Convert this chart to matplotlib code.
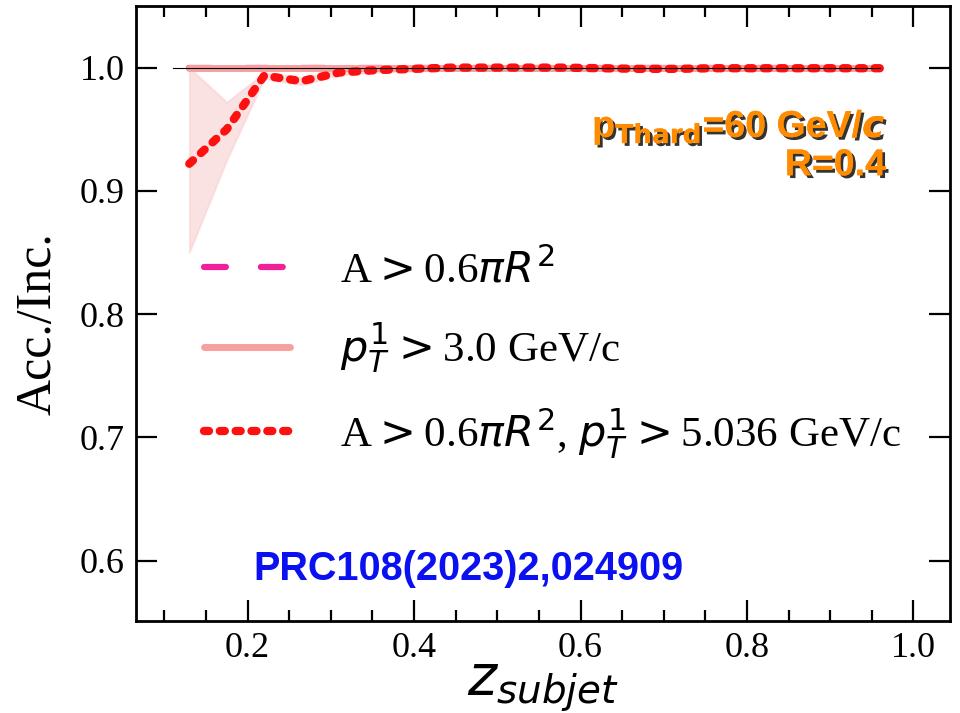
import matplotlib
matplotlib.use("Agg")
import matplotlib.pyplot as plt
import matplotlib.patheffects as pe
from matplotlib.ticker import MultipleLocator

plt.rcParams['font.family'] = ['Liberation Serif', 'DejaVu Serif']
plt.rcParams['mathtext.fontset'] = 'dejavusans'

# data
z = [0.13, 0.175, 0.22, 0.265, 0.31, 0.355, 0.40, 0.445, 0.49, 0.535,
     0.58, 0.625, 0.67, 0.715, 0.76, 0.805, 0.85, 0.895, 0.96]
acc_area = [1.0] * len(z)
acc_pt = [1.0] * len(z)
acc_both = [0.922, 0.950, 0.9935, 0.989, 0.996, 0.998, 0.999, 1.0, 1.0, 1.0,
            1.0, 0.9995, 0.999, 0.999, 0.9995, 0.9995, 0.9995, 0.9995, 0.9995]
band_lo = [0.850, 0.925, 0.991, 0.986, 0.994, 0.996, 0.997, 0.999, 0.999, 0.999,
           0.999, 0.999, 0.998, 0.998, 0.999, 0.999, 0.999, 0.999, 0.999]
band_hi = [1.0, 0.972, 0.996, 0.992, 0.998, 1.0, 1.0, 1.0, 1.0, 1.0,
           1.0, 1.0, 1.0, 1.0, 1.0, 1.0, 1.0, 1.0, 1.0]

fig = plt.figure(figsize=(9.6, 7.13), dpi=100)
ax = fig.add_axes([0.1417, 0.129, 0.848, 0.8626])

ax.fill_between(z, band_lo, band_hi, color='#f4a0a0', alpha=0.3, lw=1.5,
                edgecolor='#f8b8b8')
ax.plot(z, acc_area, color='#f0209a', lw=4.5, ls=(0, (3.5, 5.6)),
        dash_capstyle='round', label=r'A$>$0.6$\pi R^2$')
ax.plot(z, acc_pt, color='#f8a0a0', lw=5, solid_capstyle='round',
        label=r'$p_T^1>$3.0 GeV/c')
ax.plot(z, acc_both, color='#ff1010', lw=6, ls=(0, (0.6, 1.3)),
        dash_capstyle='round', label=r'A$>$0.6$\pi R^2$, $p_T^1>$5.036 GeV/c')
ax.plot([0.11, 0.96], [1.0, 1.0], color='black', lw=0.8, zorder=5)

ax.set_xlim(0.066, 1.044)
ax.set_ylim(0.551, 1.050)
ax.xaxis.set_major_locator(MultipleLocator(0.2))
ax.xaxis.set_minor_locator(MultipleLocator(0.05))
ax.yaxis.set_major_locator(MultipleLocator(0.1))
ax.tick_params(which='both', direction='in', top=True, right=True,
               labelsize=26, width=1.6, pad=8)
ax.tick_params(which='major', length=15)
ax.tick_params(which='minor', length=8)
for s in ax.spines.values():
    s.set_linewidth(2)

ax.set_xlabel(r'$z_{subjet}$', fontsize=40, labelpad=-2)
ax.set_ylabel('Acc./Inc.', fontsize=36)
ax.yaxis.set_label_coords(-0.091, 0.484)

ax.legend(loc='upper left', bbox_to_anchor=(0.036, 0.668), frameon=False,
          fontsize=31, handlelength=2.0, labelspacing=0.7, handletextpad=1.16)

shadow = [pe.withSimplePatchShadow(offset=(2, -2), shadow_rgbFace='black', alpha=0.8),
          pe.Normal()]
ax.text(0.921, 0.803, r'p$_{\mathbf{Thard}}$=60 GeV/$\mathbfit{c}$', transform=ax.transAxes,
        ha='right', va='center', fontsize=27, fontweight='bold', color='#ff8c00',
        family='Liberation Sans', path_effects=shadow)
ax.text(0.921, 0.741, 'R=0.4', transform=ax.transAxes,
        ha='right', va='center', fontsize=27, fontweight='bold', color='#ff8c00',
        family='Liberation Sans', path_effects=shadow)
ax.text(0.408, 0.085, 'PRC108(2023)2,024909', transform=ax.transAxes,
        ha='center', va='center', fontsize=28.5, fontweight='bold', color='#0a10f0',
        family='Liberation Sans')

fig.savefig('out.png', dpi=100)
